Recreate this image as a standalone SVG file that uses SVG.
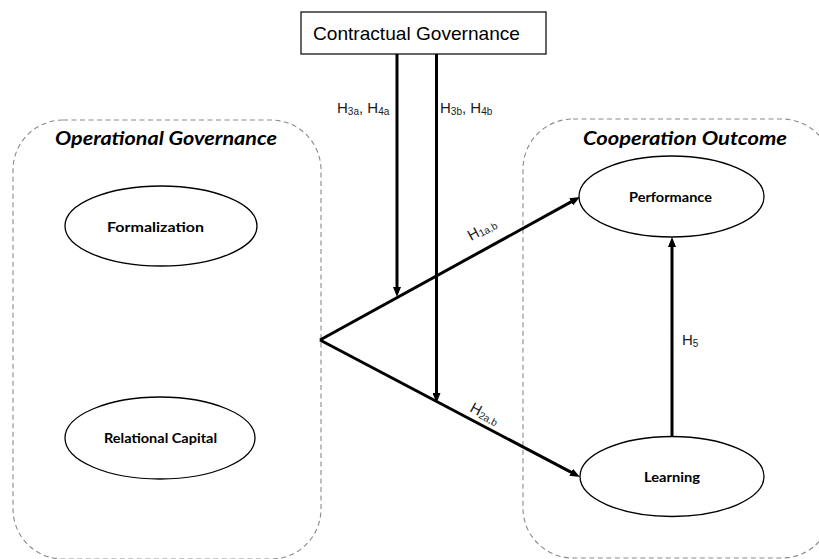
<svg xmlns="http://www.w3.org/2000/svg" width="819" height="559" viewBox="0 0 819 559">
  <style>
    .grp{fill:none;stroke:#8a8a8a;stroke-width:1.1;stroke-dasharray:5 3.5}
    .node{fill:#fff;stroke:#000;stroke-width:1.3}
    .box{fill:#fff;stroke:#000;stroke-width:1.2}
    .title{font-family:Lato,"Liberation Sans",sans-serif;font-weight:bold;font-style:italic;font-size:19px;fill:#000}
    .lbl{font-family:Lato,"Liberation Sans",sans-serif;font-weight:bold;font-size:14px;fill:#000;text-anchor:middle}
    .cg{font-family:"Liberation Sans",Arial,sans-serif;font-size:19px;fill:#000}
    .hyp{font-family:"Liberation Sans",Arial,sans-serif;font-size:15px;fill:#1a1a1a}
    .sub{font-size:10px}
    .conn{stroke:#000;stroke-width:3;fill:none}
  </style>
  <defs>
    <marker id="arrow" viewBox="0 0 10 8" refX="4" refY="4" markerWidth="10" markerHeight="8" markerUnits="userSpaceOnUse" orient="auto">
      <path d="M0,0 L10,4 L0,8 z" fill="#000"/>
    </marker>
  </defs>

  <rect width="819" height="559" fill="#fff"/>

  <!-- dashed grouping frames -->
  <g id="operational-governance">
    <rect class="grp" x="13" y="120" width="308" height="439" rx="50" ry="50"/>
    <text class="title" x="55" y="145" textLength="222" lengthAdjust="spacingAndGlyphs">Operational Governance</text>
  </g>
  <g id="cooperation-outcome">
    <rect class="grp" x="523" y="119" width="309" height="439" rx="50" ry="50"/>
    <text class="title" x="583" y="145" textLength="204" lengthAdjust="spacingAndGlyphs">Cooperation Outcome</text>
  </g>

  <!-- connectors -->
  <g id="connectors">
    <path class="conn" d="M320,340 L574.7,199.9" marker-end="url(#arrow)"/>
    <path class="conn" d="M320,340 L574.7,474.2" marker-end="url(#arrow)"/>
    <path class="conn" d="M397,54 L397,291" marker-end="url(#arrow)"/>
    <path class="conn" d="M436.5,54 L436.5,397" marker-end="url(#arrow)"/>
    <path class="conn" d="M672,436 L672,243" marker-end="url(#arrow)"/>

    <text class="hyp" x="337" y="113">H<tspan class="sub" dy="1.5">3a</tspan><tspan dy="-1.5">, H</tspan><tspan class="sub" dy="1.5">4a</tspan></text>
    <text class="hyp" x="440" y="113">H<tspan class="sub" dy="1.5">3b</tspan><tspan dy="-1.5">, H</tspan><tspan class="sub" dy="1.5">4b</tspan></text>
    <text class="hyp" transform="translate(471,241) rotate(-28.7)">H<tspan class="sub" dy="1.5">1a,b</tspan></text>
    <text class="hyp" transform="translate(469,411) rotate(27.9)">H<tspan class="sub" dy="1.5">2a,b</tspan></text>
    <text class="hyp" x="682" y="345">H<tspan class="sub" dy="1.5">5</tspan></text>
  </g>

  <!-- nodes -->
  <g id="contractual-governance">
    <rect class="box" x="301" y="12" width="245" height="42"/>
    <text class="cg" x="313" y="39.5" textLength="207" lengthAdjust="spacingAndGlyphs">Contractual Governance</text>
  </g>
  <g id="formalization">
    <ellipse class="node" cx="161" cy="226" rx="96" ry="40"/>
    <text class="lbl" x="155.5" y="232" textLength="97" lengthAdjust="spacingAndGlyphs">Formalization</text>
  </g>
  <g id="relational-capital">
    <ellipse class="node" cx="160" cy="438" rx="95" ry="41"/>
    <text class="lbl" x="160.5" y="443" textLength="113" lengthAdjust="spacingAndGlyphs">Relational Capital</text>
  </g>
  <g id="performance">
    <ellipse class="node" cx="671.5" cy="196.5" rx="92.5" ry="40.5"/>
    <text class="lbl" x="670.5" y="202" textLength="83" lengthAdjust="spacingAndGlyphs">Performance</text>
  </g>
  <g id="learning">
    <ellipse class="node" cx="672" cy="476.5" rx="92" ry="40"/>
    <text class="lbl" x="672" y="481.5" textLength="56" lengthAdjust="spacingAndGlyphs">Learning</text>
  </g>
</svg>
